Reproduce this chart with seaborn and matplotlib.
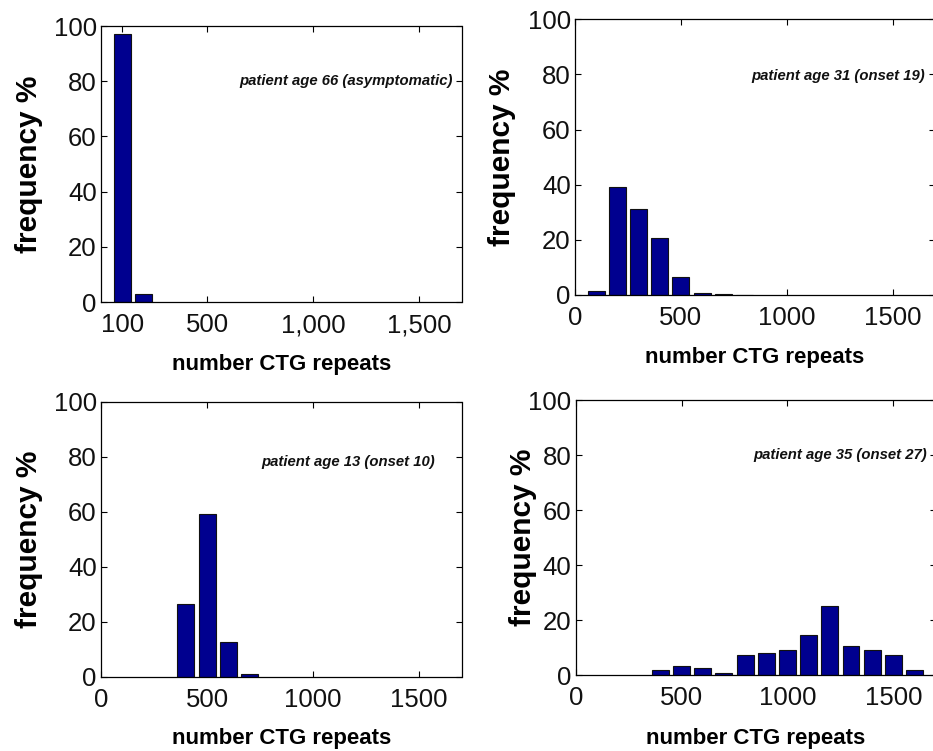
import matplotlib
matplotlib.use("Agg")
import matplotlib.pyplot as plt
import seaborn as sns

# CTG repeat-length histograms (bin centres, % of molecules per bin)
bins_age66 = [100, 200]
freq_age66 = [97.2, 2.8]

bins_age31 = [100, 200, 300, 400, 500, 600, 700, 800]
freq_age31 = [1.4, 39.1, 31.2, 20.6, 6.6, 0.9, 0.2, 0.1]

bins_age13 = [400, 500, 600, 700]
freq_age13 = [26.3, 59.0, 12.7, 1.0]

bins_age35 = [400, 500, 600, 700, 800, 900, 1000, 1100, 1200, 1300, 1400, 1500, 1600]
freq_age35 = [1.8, 3.5, 2.7, 1.0, 7.5, 8.2, 9.1, 14.6, 25.1, 10.7, 9.1, 7.5, 1.8]

patient_labels = [
    "patient age 66 (asymptomatic)",
    "patient age 31 (onset 19)",
    "patient age 13 (onset 10)",
    "patient age 35 (onset 27)",
]

x_ticks_first = [100, 500, 1000, 1500]
x_ticklabels_first = ["100", "500", "1,000", "1,500"]
x_ticks = [0, 500, 1000, 1500]
x_ticklabels = ["0", "500", "1000", "1500"]
y_ticks = [0, 20, 40, 60, 80, 100]

sns.set_style("ticks")
plt.rcParams["font.family"] = ["Liberation Sans", "DejaVu Sans"]

BAR_COLOR = "#00008F"

fig = plt.figure(figsize=(9.33, 7.51), dpi=100)

W, H = 933.0, 751.0
panels = [
    # left, top, right, bottom in pixels
    (101.0, 26.0, 461.5, 302.0),
    (575.0, 19.3, 935.0, 295.0),
    (101.0, 401.7, 461.5, 676.7),
    (575.7, 400.0, 935.7, 675.3),
]
series = [
    (bins_age66, freq_age66),
    (bins_age31, freq_age31),
    (bins_age13, freq_age13),
    (bins_age35, freq_age35),
]
ylabel_x = [-0.200, -0.204, -0.200, -0.147]
xlabel_y = [-0.228, -0.228, -0.223, -0.228]
note_pos = [(1660, 80.0), (1652, 79.4), (1575, 78.2), (1657, 80.0)]

for i, ((l, t, r, b), (centers, freqs)) in enumerate(zip(panels, series)):
    ax = fig.add_axes([l / W, 1 - b / H, (r - l) / W, (b - t) / H])
    sns.barplot(x=centers, y=freqs, native_scale=True, width=0.8,
                color=BAR_COLOR, saturation=1, edgecolor="#111111",
                linewidth=0.8, errorbar=None, ax=ax)
    ax.set_xlim(0, 1700)
    ax.set_ylim(0, 100)
    if i == 0:
        ax.set_xticks(x_ticks_first)
        ax.set_xticklabels(x_ticklabels_first)
    else:
        ax.set_xticks(x_ticks)
        ax.set_xticklabels(x_ticklabels)
    ax.set_yticks(y_ticks)
    ax.set_yticklabels([str(v) for v in y_ticks])
    ax.tick_params(axis="both", which="major", direction="in", length=4,
                   width=0.8, labelsize=18.5, top=True, right=True,
                   colors="black", labelcolor="#111111")
    ax.tick_params(axis="x", pad=8)
    ax.tick_params(axis="y", pad=3)
    for sp in ax.spines.values():
        sp.set_visible(True)
        sp.set_linewidth(0.9)
        sp.set_color("black")

    ax.set_xlabel("number CTG repeats", fontsize=16, fontweight="bold",
                  color="black")
    ax.set_ylabel("frequency %", fontsize=21.5, fontweight="bold",
                  color="black")
    ax.xaxis.set_label_coords(0.5, xlabel_y[i])
    ax.xaxis.label.set_verticalalignment("center")
    ax.yaxis.set_label_coords(ylabel_x[i], 0.5)
    ax.yaxis.label.set_verticalalignment("center")

    nx, ny = note_pos[i]
    ax.text(nx, ny, patient_labels[i], ha="right", va="center",
            fontsize=10.75, fontweight="bold", fontstyle="italic",
            color="#111111")

fig.savefig("out.png", dpi=100)
